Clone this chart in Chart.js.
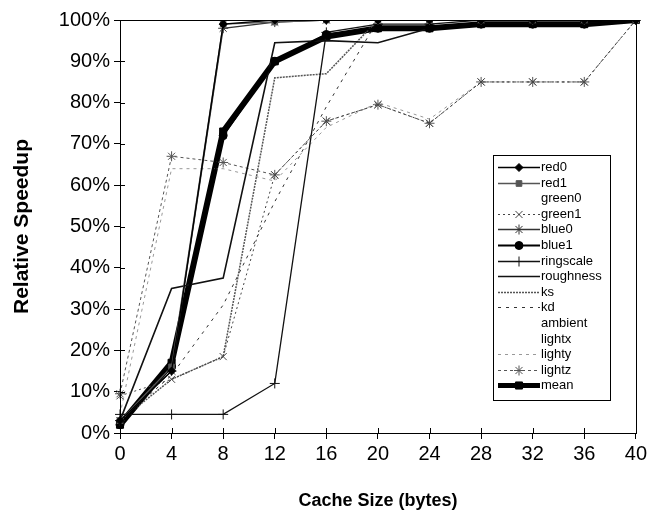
<!DOCTYPE html>
<html>
<head>
<meta charset="utf-8">
<script src="https://cdn.jsdelivr.net/npm/chart.js"></script>
<style>
  html, body { margin: 0; padding: 0; background: #fff; }
  #wrap { width: 650px; height: 514px; }
</style>
</head>
<body>
<div id="wrap"><canvas id="myChart" width="650" height="514"></canvas></div>
<script>
// cache sizes (bytes) and relative speedup (%) per input
const cacheSizes = ["0", "4", "8", "12", "16", "20", "24", "28", "32", "36", "40"];

const red0      = [3, 15, 99, 100, 100, 100, 100, 100, 100, 100, 100];
const red1      = [3, 16, 99, 99.5, 100, 100, 100, 100, 100, 100, 100];
const green0    = [3, 14, 97, 99, 100, 100, 100, 100, 100, 100, 100];
const green1    = [9, 13, 18.5, 62.5, 75.5, 79.5, 75, 85, 85, 85, 100];
const blue0     = [3, 15, 98, 99.5, 100, 100, 100, 100, 100, 100, 100];
const blue1     = [2, 16, 72, 90, 96.5, 98, 98, 99, 99, 99, 100];
const ringscale = [4.5, 4.5, 4.5, 12, 97, 99, 99, 100, 100, 100, 100];
const roughness = [3, 35, 37.5, 94.5, 95, 94.5, 98, 99, 99, 99, 100];
const ks        = [3, 13, 18.5, 86, 87, 100, 100, 100, 100, 100, 100];
const kd        = [3, 14, 31, 56, 79, 100, 100, 100, 100, 100, 100];
const ambient   = [3, 15, 60, 90, 95, 99, 100, 100, 100, 100, 100];
const lightx    = [3, 15, 70, 95, 99, 100, 100, 100, 100, 100, 100];
const lighty    = [4.5, 64, 64, 61, 74, 80, 76, 85, 85, 85, 100];
const lightz    = [9.5, 67, 65.5, 62.5, 75.5, 79.5, 75, 85, 85, 85, 100];
const mean      = [2, 17, 73, 90, 96, 98, 98, 99, 99, 99, 100];

const yTicks = [0, 10, 20, 30, 40, 50, 60, 70, 80, 90, 100];

function line(label, data, color, width, dash, style, radius) {
  return {
    label: label,
    data: data,
    borderColor: color,
    backgroundColor: color,
    borderWidth: width,
    borderDash: dash,
    pointStyle: style || "circle",
    pointRadius: style ? radius : 0,
    pointBorderWidth: 1,
    fill: false,
    tension: 0
  };
}

const datasets = [
  line("red0", red0, "#000", 1.3, [], "rectRot", 4),
  line("red1", red1, "#555", 1.3, [], "rect", 4),
  line("green0", green0, "rgba(0,0,0,0)", 1, [], null, 0),
  line("green1", green1, "#444", 1, [2, 3], "crossRot", 5),
  line("blue0", blue0, "#333", 1.3, [], "star", 5),
  line("blue1", blue1, "#000", 2, [], "circle", 4),
  line("ringscale", ringscale, "#111", 1.3, [], "cross", 5),
  line("roughness", roughness, "#111", 1.6, [], null, 0),
  line("ks", ks, "#555", 1.5, [2, 1], null, 0),
  line("kd", kd, "#333", 1, [3, 5], null, 0),
  line("ambient", ambient, "rgba(0,0,0,0)", 1, [], null, 0),
  line("lightx", lightx, "rgba(0,0,0,0)", 1, [], null, 0),
  line("lighty", lighty, "#999", 1, [3, 4], null, 0),
  line("lightz", lightz, "#555", 1, [3, 3], "star", 5),
  line("mean", mean, "#000", 6, [], "rect", 5)
];

// frame round the plot area plus the inner half of the tick marks
const framePlugin = {
  id: "frame",
  afterDraw(chart) {
    const a = chart.chartArea, c = chart.ctx;
    c.save();
    c.strokeStyle = "#000";
    c.lineWidth = 1;
    c.strokeRect(Math.round(a.left) + 0.5, Math.round(a.top) + 0.5, Math.round(a.right - a.left), Math.round(a.bottom - a.top));
    const ys = chart.scales.y, xs = chart.scales.x;
    c.beginPath();
    yTicks.forEach(v => {
      const py = Math.round(ys.getPixelForValue(v)) + 0.5;
      c.moveTo(a.left, py); c.lineTo(a.left + 5, py);
    });
    cacheSizes.forEach((s, i) => {
      const px = Math.round(xs.getPixelForValue(i)) + 0.5;
      c.moveTo(px, a.bottom); c.lineTo(px, a.bottom - 5);
    });
    c.stroke();
    c.restore();
  }
};

// boxed legend sitting inside the plot, like the original
const legendPlugin = {
  id: "boxLegend",
  afterDraw(chart) {
    const c = chart.ctx;
    const x0 = 493, y0 = 155, w = 117, h = 245;
    c.save();
    c.fillStyle = "#fff";
    c.fillRect(x0, y0, w, h);
    c.strokeStyle = "#000";
    c.lineWidth = 1;
    c.setLineDash([]);
    c.strokeRect(x0 + 0.5, y0 + 0.5, w, h);
    c.font = "13px 'Liberation Sans', Arial, sans-serif";
    c.textBaseline = "middle";
    chart.data.datasets.forEach((ds, i) => {
      const y = Math.round(167 + i * 15.6) + 0.5;
      c.strokeStyle = ds.borderColor;
      c.fillStyle = ds.borderColor;
      c.lineWidth = Math.min(ds.borderWidth, 5);
      c.setLineDash(ds.borderDash || []);
      c.beginPath();
      c.moveTo(498, y);
      c.lineTo(540, y);
      c.stroke();
      c.setLineDash([]);
      if (ds.pointRadius > 0) {
        c.lineWidth = 1;
        Chart.helpers.drawPoint(c, { pointStyle: ds.pointStyle, radius: ds.pointRadius, rotation: 0, borderWidth: 1 }, 519, y);
      }
      c.fillStyle = "#000";
      c.fillText(ds.label, 541, y);
    });
    c.restore();
  }
};

const ctx = document.getElementById("myChart");
const chart = new Chart(ctx, {
  type: "line",
  data: { labels: cacheSizes, datasets: datasets },
  options: {
    responsive: false,
    animation: false,
    devicePixelRatio: 1,
    layout: { padding: { top: 20, right: 13, left: 0, bottom: 0 } },
    plugins: { legend: { display: false }, tooltip: { enabled: false } },
    scales: {
      x: {
        type: "category",
        offset: false,
        grid: { drawOnChartArea: false, color: "#000", tickLength: 6 },
        border: { color: "#000" },
        ticks: { color: "#000", font: { family: "'Liberation Sans', Arial", size: 20 }, padding: 3, maxRotation: 0 },
        title: { display: true, text: "Cache Size (bytes)", color: "#000", font: { family: "'Liberation Sans', Arial", size: 18, weight: "bold" }, padding: { top: 4, bottom: 2 } },
        afterFit(scale) { scale.height = 81; }
      },
      y: {
        min: 0,
        max: 100,
        grid: { drawOnChartArea: false, color: "#000", tickLength: 6 },
        border: { color: "#000" },
        afterBuildTicks(scale) { scale.ticks = yTicks.map(v => ({ value: v })); },
        ticks: { color: "#000", font: { family: "'Liberation Sans', Arial", size: 20 }, padding: 4, callback: v => v + "%" },
        title: { display: true, text: "Relative Speedup", color: "#000", font: { family: "'Liberation Sans', Arial", size: 21, weight: "bold" }, padding: { top: 10, bottom: 4 } },
        afterFit(scale) { scale.width = 120; }
      }
    }
  },
  plugins: [framePlugin, legendPlugin]
});
</script>
</body>
</html>
